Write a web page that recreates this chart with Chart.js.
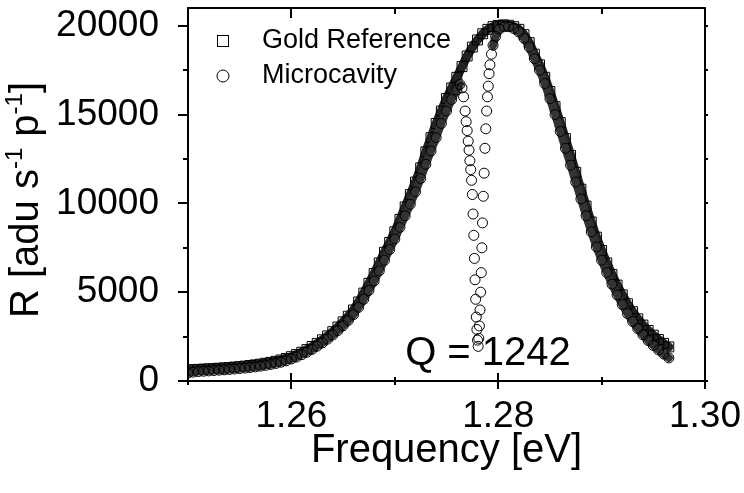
<!DOCTYPE html>
<html>
<head>
<meta charset="utf-8">
<script src="https://cdn.jsdelivr.net/npm/chart.js@4.4.1/dist/chart.umd.min.js"></script>
<style>
  html, body { margin: 0; padding: 0; background: #fff; }
  canvas { display: block; }
</style>
</head>
<body>
<canvas id="spectrum" width="744" height="493"></canvas>
<script>
const goldFreq = [
  1.2500, 1.2505, 1.2510, 1.2515, 1.2520, 1.2525, 1.2530, 1.2535, 1.2540, 1.2545,
  1.2550, 1.2555, 1.2560, 1.2565, 1.2570, 1.2575, 1.2580, 1.2585, 1.2590, 1.2595,
  1.2600, 1.2605, 1.2610, 1.2615, 1.2620, 1.2625, 1.2630, 1.2635, 1.2640, 1.2645,
  1.2650, 1.2655, 1.2660, 1.2665, 1.2670, 1.2675, 1.2680, 1.2685, 1.2690, 1.2695,
  1.2700, 1.2705, 1.2710, 1.2715, 1.2720, 1.2725, 1.2730, 1.2735, 1.2740, 1.2745,
  1.2750, 1.2755, 1.2760, 1.2765, 1.2770, 1.2775, 1.2780, 1.2785, 1.2790, 1.2795,
  1.2800, 1.2805, 1.2810, 1.2815, 1.2820, 1.2825, 1.2830, 1.2835, 1.2840, 1.2845,
  1.2850, 1.2855, 1.2860, 1.2865, 1.2870, 1.2875, 1.2880, 1.2885, 1.2890, 1.2895,
  1.2900, 1.2905, 1.2910, 1.2915, 1.2920, 1.2925, 1.2930, 1.2935, 1.2940, 1.2945,
  1.2950, 1.2955, 1.2960, 1.2965
];
const goldR = [
  620, 640, 655, 670, 685, 700, 720, 740, 760, 785,
  810, 840, 875, 910, 950, 1000, 1050, 1110, 1185, 1270,
  1370, 1490, 1620, 1770, 1940, 2120, 2320, 2540, 2780, 3040,
  3330, 3650, 4000, 4450, 4950, 5500, 6050, 6650, 7250, 7800,
  8400, 9100, 9800, 10500, 11200, 12000, 12900, 13700, 14500, 15200,
  15900, 16500, 17100, 17700, 18300, 18800, 19200, 19550, 19800, 19950,
  20020, 20050, 20030, 19950, 19800, 19500, 19050, 18400, 17800, 17100,
  16300, 15450, 14550, 13650, 12700, 11750, 10800, 9850, 8950, 8100,
  7350, 6650, 6000, 5400, 4850, 4350, 3900, 3500, 3150, 2850,
  2580, 2340, 2120, 1920
];

const cavityFreq = [
  1.2500, 1.2505, 1.2510, 1.2515, 1.2520, 1.2525, 1.2530, 1.2535, 1.2540, 1.2545,
  1.2550, 1.2555, 1.2560, 1.2565, 1.2570, 1.2575, 1.2580, 1.2585, 1.2590, 1.2595,
  1.2600, 1.2605, 1.2610, 1.2615, 1.2620, 1.2625, 1.2630, 1.2635, 1.2640, 1.2645,
  1.2650, 1.2655, 1.2660, 1.2665, 1.2670, 1.2675, 1.2680, 1.2685, 1.2690, 1.2695,
  1.2700, 1.2705, 1.2710, 1.2715, 1.2720, 1.2725, 1.2730, 1.2735, 1.2740, 1.2745,
  1.2750, 1.2755, 1.2760,
  1.27630, 1.27650, 1.27665, 1.27680, 1.27690, 1.27700, 1.27710, 1.27718, 1.27726, 1.27734,
  1.27742, 1.27750, 1.27757, 1.27764, 1.27770, 1.27776, 1.27782, 1.27788, 1.27794, 1.27800,
  1.27806, 1.27812, 1.27818, 1.27824, 1.27830, 1.27836, 1.27842, 1.27848, 1.27856, 1.27864,
  1.27872, 1.27880, 1.27888, 1.27896, 1.27904, 1.27912, 1.27920, 1.27935, 1.27950, 1.27975,
  1.28010, 1.28060, 1.28100,
  1.2815, 1.2820, 1.2825, 1.2830, 1.2835, 1.2840, 1.2845, 1.2850, 1.2855, 1.2860,
  1.2865, 1.2870, 1.2875, 1.2880, 1.2885, 1.2890, 1.2895, 1.2900, 1.2905, 1.2910,
  1.2915, 1.2920, 1.2925, 1.2930, 1.2935, 1.2940, 1.2945, 1.2950, 1.2955, 1.2960,
  1.2965
];
const cavityR = [
  450, 500, 530, 550, 570, 590, 610, 630, 650, 675,
  700, 730, 760, 795, 835, 880, 930, 990, 1060, 1140,
  1240, 1350, 1480, 1620, 1780, 1960, 2150, 2360, 2590, 2840,
  3110, 3410, 3740, 4150, 4600, 5100, 5630, 6200, 6800, 7400,
  8000, 8650, 9300, 9950, 10650, 11400, 12200, 12950, 13700, 14500,
  15200, 15850, 16400,
  16700, 16500, 16000, 15200, 14600, 14100, 13500, 13000, 12400, 11900,
  11300, 10500, 9400, 8200, 6900, 5700, 4600, 3600, 2900, 2300,
  1950, 2400, 3100, 4000, 5000, 6100, 7500, 8900, 10400, 11700,
  13100, 14200, 15200, 16000, 16600, 17300, 17800, 18400, 18900, 19400,
  19800, 19950, 19950,
  19850, 19650, 19300, 18800, 18150, 17500, 16750, 15900, 15000, 14050,
  13100, 12150, 11200, 10250, 9300, 8400, 7550, 6800, 6100, 5450,
  4850, 4300, 3800, 3350, 2950, 2600, 2280, 2000, 1750, 1520,
  1300
];

const xTickValues = [1.25, 1.26, 1.27, 1.28, 1.29, 1.30];
const xTickLabels = [1.26, 1.28, 1.30];
const yTickValues = [0, 2500, 5000, 7500, 10000, 12500, 15000, 17500, 20000];
const yTickLabels = [0, 5000, 10000, 15000, 20000];
const qualityText = 'Q = 1242';
const qualityAt = { x: 1.2710, y: 880 };
const dipRange = [1.2762, 1.2797];

const FONT = '"Liberation Sans", Arial, Helvetica, sans-serif';

function pairs(xs, ys) {
  return xs.map((x, i) => ({ x: x, y: ys[i] }));
}

// frame, tick marks, legend, y title and the Q note
const decorations = {
  id: 'decorations',
  afterDraw(chart) {
    const ctx = chart.ctx;
    const a = chart.chartArea;
    const xs = chart.scales.x;
    const ys = chart.scales.y;
    ctx.save();
    ctx.strokeStyle = '#000';
    ctx.lineWidth = 2;
    ctx.strokeRect(a.left, a.top, a.right - a.left, a.bottom - a.top);

    ctx.beginPath();
    xs.ticks.forEach(t => {
      const px = Math.round(xs.getPixelForValue(t.value));
      const major = t.label !== '';
      const l = major ? 8 : 4;
      ctx.moveTo(px, a.bottom - l);
      ctx.lineTo(px, a.bottom + l);
      ctx.moveTo(px, a.top);
      ctx.lineTo(px, a.top + (major ? 10 : 6));
    });
    ys.ticks.forEach(t => {
      const py = Math.round(ys.getPixelForValue(t.value));
      const major = t.label !== '';
      ctx.moveTo(a.left, py);
      ctx.lineTo(a.left - (major ? 10 : 5), py);
      ctx.moveTo(a.right, py);
      ctx.lineTo(a.right + 3, py);
    });
    ctx.stroke();

    // legend
    const ds = chart.data.datasets;
    ctx.lineWidth = 1;
    ctx.fillStyle = '#000';
    ctx.font = '27px ' + FONT;
    ctx.textBaseline = 'middle';
    ctx.textAlign = 'left';
    const lx = a.left + 35;
    const row1 = a.top + 33;
    const row2 = a.top + 68;
    ctx.strokeRect(lx - 5.5, row1 - 5.5, 11, 11);
    ctx.beginPath();
    ctx.arc(lx, row2, 6, 0, Math.PI * 2);
    ctx.stroke();
    ctx.fillText(ds[0].label, lx + 39, row1);
    ctx.fillText(ds[1].label, lx + 39, row2);

    // Q note
    ctx.font = '40px ' + FONT;
    ctx.textBaseline = 'alphabetic';
    ctx.fillText(qualityText, xs.getPixelForValue(qualityAt.x), ys.getPixelForValue(qualityAt.y));

    // y axis title with superscripts
    const big = '40px ' + FONT;
    const small = '24px ' + FONT;
    const parts = [
      ['R [adu s', big, 0],
      ['-1', small, -16],
      [' p', big, 0],
      ['-1', small, -16],
      [']', big, 0]
    ];
    let total = 0;
    parts.forEach(p => { ctx.font = p[1]; total += ctx.measureText(p[0]).width; });
    ctx.translate(38, 200 + total / 2);
    ctx.rotate(-Math.PI / 2);
    let cx = 0;
    parts.forEach(p => {
      ctx.font = p[1];
      ctx.fillText(p[0], cx, p[2]);
      cx += ctx.measureText(p[0]).width;
    });
    ctx.restore();
  }
};

const inDip = c => c.p0.parsed.x > dipRange[0] && c.p1.parsed.x < dipRange[1];

new Chart(document.getElementById('spectrum'), {
  type: 'scatter',
  data: {
    datasets: [
      {
        label: 'Gold Reference',
        data: pairs(goldFreq, goldR),
        showLine: true,
        borderColor: '#222',
        borderWidth: 9,
        borderJoinStyle: 'round',
        borderCapStyle: 'round',
        pointStyle: 'rect',
        pointRadius: 7,
        pointBorderColor: '#000',
        pointBorderWidth: 1,
        pointBackgroundColor: 'rgba(0,0,0,0)',
        order: 1
      },
      {
        label: 'Microcavity',
        data: pairs(cavityFreq, cavityR),
        showLine: true,
        borderColor: '#333',
        borderWidth: 8,
        borderJoinStyle: 'round',
        borderCapStyle: 'round',
        segment: {
          borderColor: c => inDip(c) ? 'rgba(0,0,0,0)' : undefined
        },
        pointStyle: 'circle',
        pointRadius: 5,
        pointBorderColor: '#000',
        pointBorderWidth: 1,
        pointBackgroundColor: 'rgba(0,0,0,0)',
        order: 0
      }
    ]
  },
  options: {
    responsive: false,
    devicePixelRatio: 1,
    animation: false,
    events: [],
    layout: { padding: { left: 0, right: 39, top: 3, bottom: 0 } },
    plugins: {
      legend: { display: false },
      tooltip: { enabled: false }
    },
    scales: {
      x: {
        type: 'linear',
        position: 'bottom',
        min: 1.25,
        max: 1.30,
        grid: { display: false },
        border: { display: false },
        afterBuildTicks: s => { s.ticks = xTickValues.map(v => ({ value: v })); },
        afterFit: s => { s.height = 112; s.paddingLeft = 0; s.paddingRight = 0; },
        ticks: {
          autoSkip: false,
          maxRotation: 0,
          minRotation: 0,
          padding: 6,
          color: '#000',
          font: { family: FONT, size: 37 },
          callback: v => {
            const hit = xTickLabels.find(l => Math.abs(l - v) < 1e-6);
            return hit === undefined ? '' : hit.toFixed(2);
          }
        },
        title: {
          display: true,
          text: 'Frequency [eV]',
          color: '#000',
          font: { family: FONT, size: 40 },
          padding: { top: 0, bottom: 18 }
        }
      },
      y: {
        type: 'linear',
        min: 0,
        max: 21000,
        grid: { display: false },
        border: { display: false },
        afterBuildTicks: s => { s.ticks = yTickValues.map(v => ({ value: v })); },
        afterFit: s => { s.width = 188; s.paddingTop = 0; s.paddingBottom = 0; },
        ticks: {
          autoSkip: false,
          padding: 21,
          color: '#000',
          font: { family: FONT, size: 37 },
          callback: v => yTickLabels.includes(v) ? String(v) : ''
        }
      }
    }
  },
  plugins: [decorations]
});
</script>
</body>
</html>
